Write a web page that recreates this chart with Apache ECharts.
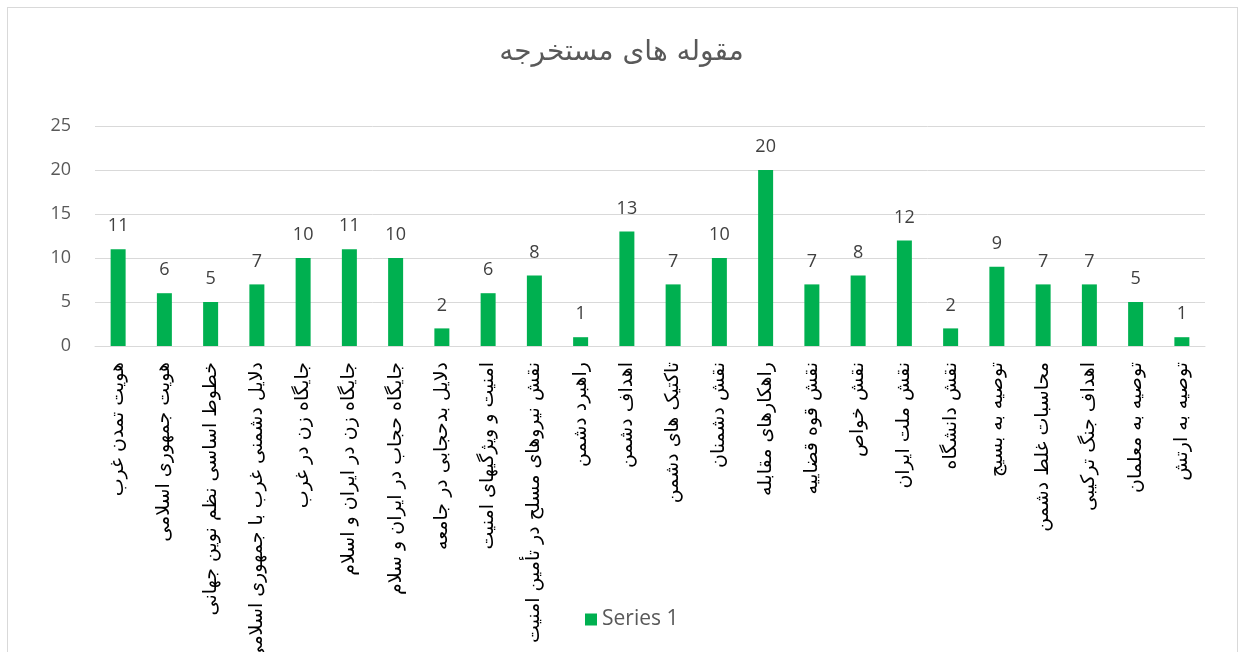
<!DOCTYPE html>
<html>
<head>
<meta charset="utf-8">
<script src="https://cdn.jsdelivr.net/npm/echarts@6/dist/echarts.min.js"></script>
<style>
    html, body {
        margin: 0;
        padding: 0;
        background: #fff;
        overflow: hidden;
    }
    #chart {
        width: 1243px;
        height: 652px;
    }
    .frame {
        position: absolute;
        left: 7px;
        top: 7px;
        width: 1229px;
        height: 660px;
        border: 1px solid #d9d9d9;
        pointer-events: none;
    }
</style>
</head>
<body>
<div id="chart"></div>
<div class="frame"></div>
<script>
// دسته‌ها (مقوله ها)
const categories = [
    'هویت تمدن غرب',
    'هویت جمهوری اسلامی',
    'خطوط اساسی نظم نوین جهانی',
    'دلایل دشمنی غرب با جمهوری اسلامی',
    'جایگاه زن در غرب',
    'جایگاه زن در ایران و اسلام',
    'جایگاه حجاب در ایران و سلام',
    'دلایل بدحجابی در جامعه',
    'امنیت و ویژگیهای امنیت',
    'نقش نیروهای مسلح در تأمین امنیت',
    'راهبرد دشمن',
    'اهداف دشمن',
    'تاکتیک های دشمن',
    'نقش دشمنان',
    'راهکارهای مقابله',
    'نقش قوه قضاییه',
    'نقش خواص',
    'نقش ملت ایران',
    'نقش دانشگاه',
    'توصیه به بسیج',
    'محاسبات غلط دشمن',
    'اهداف جنگ ترکیبی',
    'توصیه به معلمان',
    'توصیه به ارتش'
];

// مقادیر سری
const series1 = [11, 6, 5, 7, 10, 11, 10, 2, 6, 8, 1, 13, 7, 10, 20, 7, 8, 12, 2, 9, 7, 7, 5, 1];

const chart = echarts.init(document.getElementById('chart'));
const option = {
    backgroundColor: '#fff',
    title: {
        text: 'مقوله های مستخرجه',
        left: 'center',
        top: 34,
        textStyle: {
            fontFamily: 'DejaVu Sans',
            fontSize: 28,
            fontWeight: 'normal',
            color: '#595959'
        }
    },
    legend: {
        data: ['Series 1'],
        left: 580,
        top: 604,
        itemWidth: 12,
        itemHeight: 12,
        icon: 'rect',
        itemGap: 6,
        textStyle: {
            fontFamily: 'Open Sans',
            fontSize: 21,
            color: '#595959'
        }
    },
    grid: {
        left: 95,
        right: 38,
        top: 126,
        bottom: 306,
        outerBoundsMode: 'none' // برچسب‌های بلند می‌توانند از کادر بیرون بزنند
    },
    xAxis: {
        type: 'category',
        data: categories,
        axisLine: { lineStyle: { color: '#d9d9d9' } },
        axisTick: { show: false },
        axisLabel: {
            interval: 0, // همه برچسب‌ها نمایش داده شوند
            rotate: 90,
            margin: 16,
            fontFamily: 'DejaVu Sans',
            fontSize: 19,
            color: '#000'
        }
    },
    yAxis: {
        type: 'value',
        min: 0,
        max: 25,
        interval: 5,
        axisLine: { show: false },
        axisTick: { show: false },
        splitLine: { lineStyle: { color: '#d9d9d9' } },
        axisLabel: {
            margin: 24,
            fontFamily: 'Open Sans',
            fontSize: 18,
            color: '#595959'
        }
    },
    series: [
        {
            name: 'Series 1',
            type: 'bar',
            data: series1,
            barWidth: 15,
            itemStyle: { color: '#00b050' },
            label: {
                show: true,
                position: 'top',
                distance: 14,
                fontFamily: 'Open Sans',
                fontSize: 18,
                color: '#404040'
            }
        }
    ]
};
chart.setOption(option);
</script>
</body>
</html>
